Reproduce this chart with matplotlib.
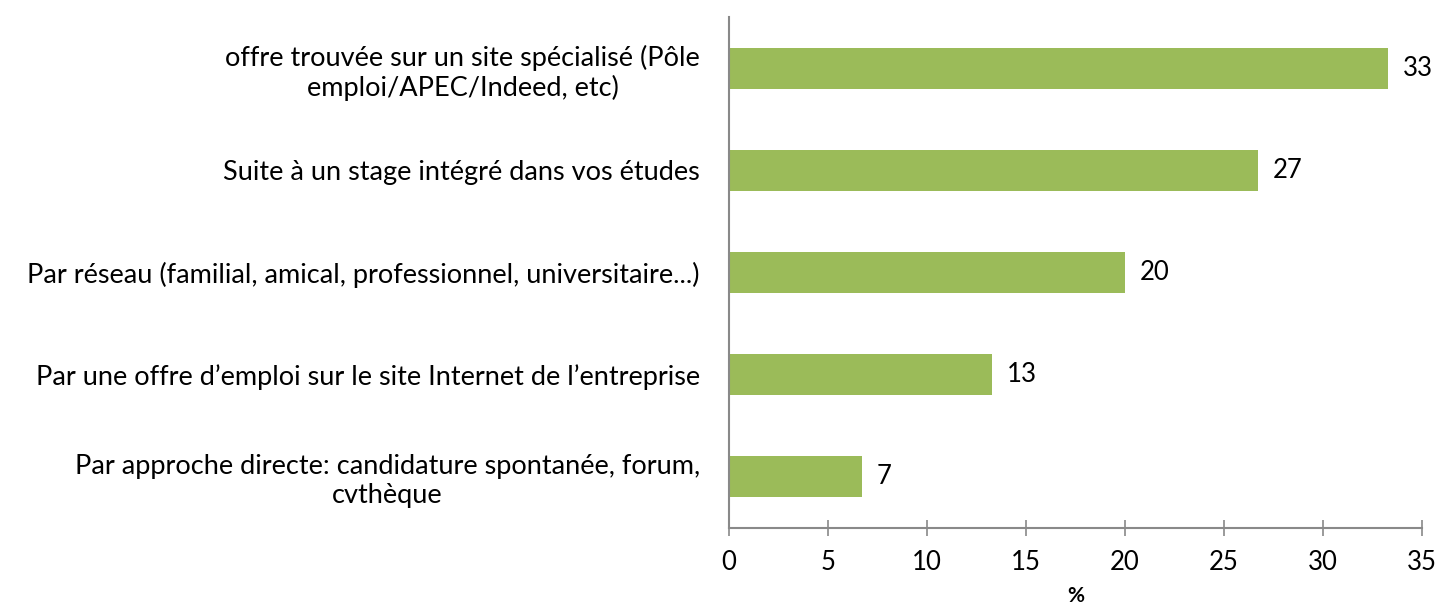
import matplotlib.pyplot as plt
import numpy as np

plt.rcParams['font.family'] = ['Lato', 'DejaVu Sans']

# -------- data -------- #
categories = [
    "offre trouvée sur un site spécialisé (Pôle\nemploi/APEC/Indeed, etc)",
    "Suite à un stage intégré dans vos études",
    "Par réseau (familial, amical, professionnel, universitaire...)",
    "Par une offre d’emploi sur le site Internet de l’entreprise",
    "Par approche directe: candidature spontanée, forum,\ncvthèque",
]
values = [33.3, 26.7, 20.0, 13.3, 6.7]
value_labels = ["33", "27", "20", "13", "7"]
xticks = [0, 5, 10, 15, 20, 25, 30, 35]

bar_color = '#9BBB59'
axis_color = '#898989'

fig = plt.figure(figsize=(14.37, 6.12), dpi=100)
ax = fig.add_axes([0.5073, 0.1373, 0.4823, 0.8349])

y = np.arange(len(categories))
ax.barh(y, values, height=0.4, color=bar_color)
for yi, v, lab in zip(y, values, value_labels):
    ax.text(v + 0.75, yi, lab, va='center', ha='left', fontsize=18.5)

ax.set_ylim(len(categories) - 0.5, -0.5)
ax.set_xlim(0, 35)
ax.set_xticks(xticks)
ax.set_xticklabels([str(t) for t in xticks], fontsize=18.5)
ax.set_yticks(y)
ax.set_yticklabels(categories, fontsize=19.5, multialignment='center')

for s in ['top', 'right']:
    ax.spines[s].set_visible(False)
for s in ['left', 'bottom']:
    ax.spines[s].set_color(axis_color)
    ax.spines[s].set_linewidth(1.5)

ax.tick_params(axis='x', direction='inout', length=12, width=1.2, color=axis_color, pad=10)
ax.tick_params(axis='y', length=0, pad=21)

ax.set_xlabel('%', fontsize=15, fontweight='bold', labelpad=8)

fig.savefig('out.png', dpi=100)
